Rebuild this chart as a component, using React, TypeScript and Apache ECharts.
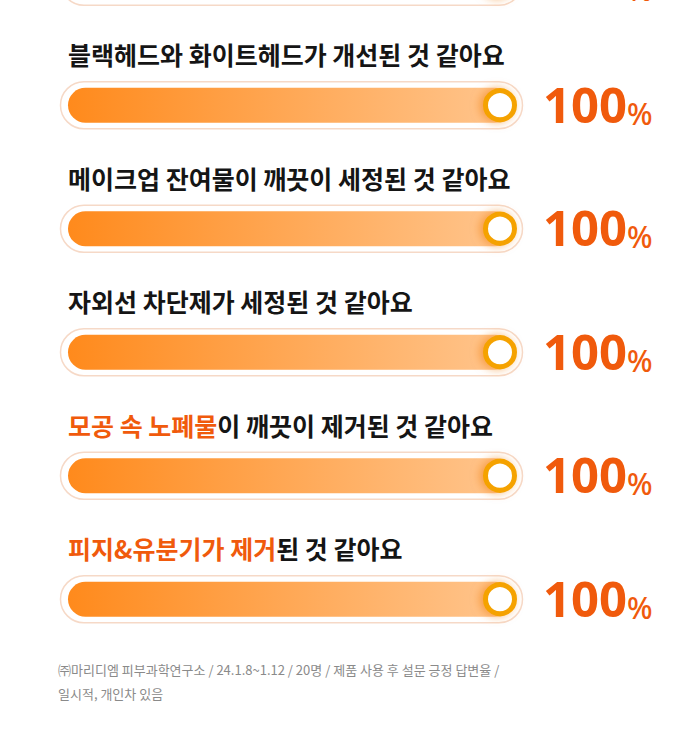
import React, { useEffect, useRef } from "react";
import * as echarts from "echarts";

// ---- data ----
const categories = ["q0", "q1", "q2", "q3", "q4", "q5"];
const titleAccent = ["", "", "", "", "모공 속 노폐물", "피지&유분기가 제거"];
const titleRest = [
  "",
  "블랙헤드와 화이트헤드가 개선된 것 같아요",
  "메이크업 잔여물이 깨끗이 세정된 것 같아요",
  "자외선 차단제가 세정된 것 같아요",
  "이 깨끗이 제거된 것 같아요",
  "된 것 같아요",
];
const values = [100, 100, 100, 100, 100, 100];
const footnoteLines = [
  "㈜마리디엠 피부과학연구소 / 24.1.8~1.12 / 20명 / 제품 사용 후 설문 긍정 답변율 /",
  "일시적, 개인차 있음",
];

const ORANGE_TEXT = "#F05A0C";
const KR = '"Noto Sans CJK KR", "Noto Sans", sans-serif';
const OFFSET = 80; // chart canvas extends above the visible page

export default function App() {
  const ref = useRef<HTMLDivElement>(null);
  useEffect(() => {
    if (!ref.current) return;
    const chart = echarts.init(ref.current, null, { renderer: "svg" });
    const renderItem = (params: any, api: any) => {
      const idx = params.dataIndex;
      const v = api.value(0);
      const c = api.value(1);
      const p0 = api.coord([0, c]);
      const p1 = api.coord([v, c]);
      const x0 = p0[0];
      const x1 = p1[0];
      const cy = p1[1];
      let title = "";
      if (titleAccent[idx]) title += "{a|" + titleAccent[idx] + "}";
      if (titleRest[idx]) title += "{k|" + titleRest[idx] + "}";
      return {
        type: "group",
        children: [
          {
            type: "rect",
            shape: { x: x0 - 7.5, y: cy - 23.5, width: x1 - x0 + 30, height: 47, r: 23.5 },
            style: { fill: "#ffffff", stroke: "#F6D9C7", lineWidth: 1.5 },
          },
          {
            type: "rect",
            shape: { x: x0, y: cy - 17.5, width: x1 - x0 + 12, height: 35, r: 17.5 },
            style: {
              fill: new echarts.graphic.LinearGradient(0, 0, 1, 0, [
                { offset: 0, color: "#FF8A1C" },
                { offset: 1, color: "#FFC68F" },
              ]),
            },
          },
          {
            type: "circle",
            shape: { cx: x1, cy: cy, r: 14.5 },
            style: {
              fill: "#ffffff",
              stroke: "#F5A200",
              lineWidth: 5,
              shadowBlur: 10,
              shadowOffsetX: -3,
              shadowColor: "rgba(240,120,0,0.55)",
            },
          },
          {
            type: "text",
            x: x1 + 43,
            y: cy - 1,
            style: {
              text: "{n|" + v + "}{p|%}",
              verticalAlign: "middle",
              align: "left",
              rich: {
                n: {
                  fontFamily: '"Noto Sans", sans-serif',
                  fontWeight: "bold",
                  fontSize: 49,
                  lineHeight: 48,
                  fill: ORANGE_TEXT,
                  verticalAlign: "bottom",
                },
                p: {
                  fontFamily: '"Noto Sans", sans-serif',
                  fontWeight: 500,
                  fontSize: 30,
                  lineHeight: 36,
                  fill: ORANGE_TEXT,
                  verticalAlign: "bottom",
                },
              },
            },
          },
          {
            type: "text",
            x: x0,
            y: cy - 51,
            style: {
              text: title,
              verticalAlign: "middle",
              align: "left",
              rich: {
                a: { fontFamily: KR, fontWeight: "bold", fontSize: 25, fill: ORANGE_TEXT },
                k: { fontFamily: KR, fontWeight: "bold", fontSize: 25, fill: "#151515" },
              },
            },
          },
        ],
      };
    };
    chart.setOption({
      animation: false,
      backgroundColor: "#ffffff",
      grid: { left: 68, right: 200, top: 0, height: 741 },
      xAxis: { type: "value", min: 0, max: 100, show: false },
      yAxis: { type: "category", data: categories, inverse: true, show: false },
      series: [
        {
          type: "custom",
          clip: false,
          renderItem,
          encode: { x: 0, y: 1 },
          data: values.map((v, i) => [v, i]),
        },
      ],
      graphic: [
        {
          type: "text",
          left: 58,
          top: 657 + OFFSET,
          style: {
            text: footnoteLines.join("\n"),
            fontFamily: KR,
            fontSize: 13,
            lineHeight: 24,
            fill: "#8A8A8A",
          },
        },
      ],
    });
    return () => chart.dispose();
  }, []);
  return (
    <div
      ref={ref}
      style={{ position: "fixed", left: 0, top: -OFFSET, width: 700, height: 730 + OFFSET }}
    />
  );
}
